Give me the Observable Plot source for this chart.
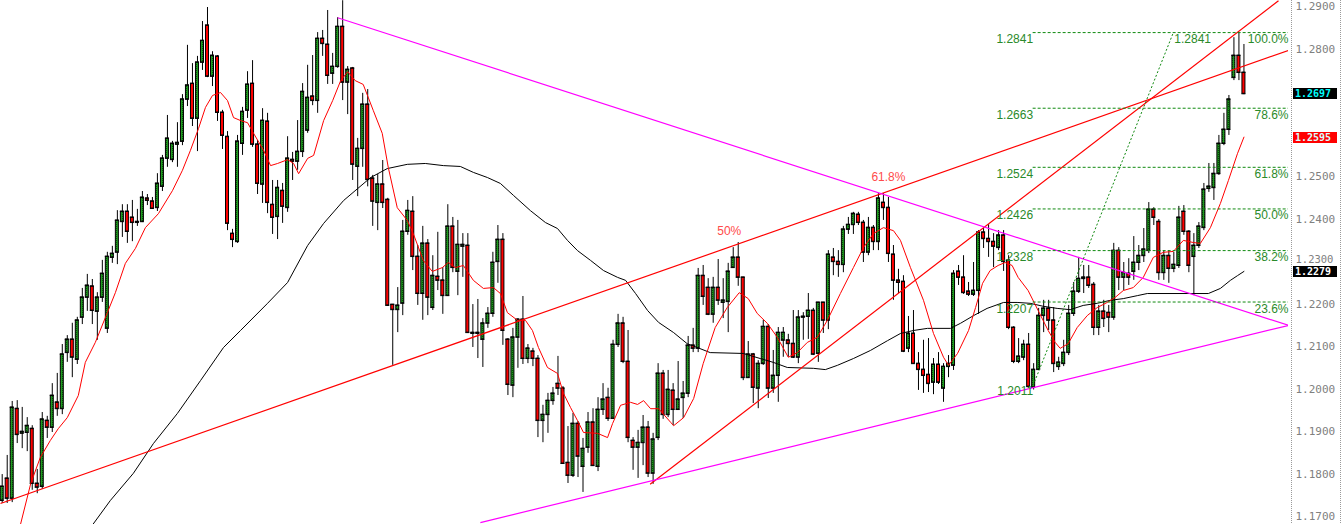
<!DOCTYPE html>
<html><head><meta charset="utf-8">
<script src="https://cdn.jsdelivr.net/npm/d3@7"></script>
<script src="https://cdn.jsdelivr.net/npm/@observablehq/plot@0.6"></script>
<style>
html,body{margin:0;padding:0;background:#fff;overflow:hidden}
svg{display:block}
</style></head><body><div id="chart"></div>
<script>
// Daily OHLC bars (bar index = position in arrays)
const O=[1.1740,1.1792,1.1745,1.1956,1.1898,1.1900,1.1909,1.1780,1.1773,1.1928,
1.1912,1.1971,1.1956,1.2088,1.2119,1.2072,1.2171,1.2218,1.2244,1.2185,
1.2218,1.2145,1.2312,1.2324,1.2396,1.2420,1.2406,1.2394,1.2396,1.2451,
1.2444,1.2429,1.2479,1.2545,1.2542,1.2578,1.2585,1.2684,1.2721,1.2639,
1.2771,1.2858,1.2738,1.2785,1.2653,1.2596,1.2368,1.2349,1.2580,1.2658,
1.2721,1.2578,1.2484,1.2632,1.2436,1.2408,1.2469,1.2429,1.2542,1.2538,
1.2561,1.2611,1.2691,1.2681,1.2827,1.2813,1.2745,1.2761,1.2855,1.2724,
1.2757,1.2526,1.2568,1.2672,1.2498,1.2441,1.2484,1.2448,1.2201,1.2189,
1.2204,1.2373,1.2420,1.2314,1.2227,1.2345,1.2194,1.2267,1.2258,1.2222,
1.2385,1.2279,1.2338,1.2340,1.2135,1.2133,1.2119,1.2157,1.2180,1.2302,
1.2354,1.2119,1.2011,1.2124,1.2166,1.2074,1.2091,1.2074,1.1928,1.1942,
1.1975,1.2015,1.2004,1.1829,1.1799,1.1921,1.1820,1.1865,1.1924,1.1820,
1.1954,1.1982,1.1933,1.2107,1.2157,1.2067,1.1881,1.1865,1.1876,1.1912,
1.1804,1.1888,1.2039,1.1942,1.1999,1.1954,1.1982,1.1992,1.2105,1.2098,
1.2269,1.2241,1.2178,1.2241,1.2206,1.2208,1.2288,1.2312,1.2265,1.2029,
1.2084,1.2004,1.2062,1.2149,1.2004,1.2034,1.2117,1.2117,1.2109,1.2077,
1.2171,1.2173,1.2187,1.2086,1.2206,1.2164,1.2312,1.2302,1.2295,1.2378,
1.2389,1.2413,1.2394,1.2324,1.2382,1.2349,1.2441,1.2429,1.2319,1.2258,
1.2255,1.2098,1.2133,1.2062,1.2048,1.2036,1.2018,1.2060,1.2004,1.2055,
1.2058,1.2279,1.2265,1.2232,1.2225,1.2234,1.2371,1.2356,1.2349,1.2335,
1.2364,1.2305,1.2147,1.2067,1.2077,1.2107,1.2006,1.2048,1.2175,1.2192,
1.2164,1.2055,1.2062,1.2088,1.2180,1.2232,1.2262,1.2265,1.2248,1.2147,
1.2185,1.2182,1.2171,1.2328,1.2265,1.2274,1.2279,1.2300,1.2316,1.2328,
1.2425,1.2396,1.2276,1.2316,1.2286,1.2293,1.2420,1.2373,1.2314,1.2340,
1.2382,1.2474,1.2476,1.2509,1.2580,1.2613,1.2735,1.2787,1.2747];
const H=[1.1801,1.1846,1.1973,1.1975,1.1959,1.1935,1.1916,1.1813,1.1947,1.1938,
1.2015,1.2039,1.2107,1.2128,1.2157,1.2171,1.2239,1.2272,1.2260,1.2229,
1.2305,1.2324,1.2338,1.2422,1.2436,1.2436,1.2446,1.2425,1.2467,1.2460,
1.2453,1.2509,1.2552,1.2646,1.2585,1.2629,1.2695,1.2811,1.2768,1.2785,
1.2867,1.2900,1.2796,1.2787,1.2658,1.2608,1.2378,1.2599,1.2665,1.2749,
1.2775,1.2587,1.2662,1.2651,1.2493,1.2493,1.2486,1.2596,1.2559,1.2634,
1.2721,1.2764,1.2787,1.2841,1.2846,1.2893,1.2792,1.2876,1.2916,1.2761,
1.2759,1.2592,1.2698,1.2707,1.2505,1.2507,1.2540,1.2451,1.2201,1.2241,
1.2399,1.2446,1.2455,1.2340,1.2385,1.2354,1.2316,1.2371,1.2288,1.2436,
1.2406,1.2399,1.2368,1.2368,1.2201,1.2213,1.2168,1.2194,1.2324,1.2387,
1.2368,1.2121,1.2145,1.2168,1.2220,1.2107,1.2098,1.2081,1.1964,1.1992,
1.2006,1.2079,1.2008,1.1914,1.1945,1.1926,1.1886,1.1947,1.1956,1.1982,
1.2015,1.2004,1.2117,1.2178,1.2171,1.2140,1.1888,1.1905,1.1940,1.1926,
1.1898,1.2062,1.2046,1.2046,1.2015,1.2067,1.2020,1.2126,1.2145,1.2286,
1.2293,1.2262,1.2265,1.2307,1.2262,1.2298,1.2335,1.2347,1.2265,1.2114,
1.2086,1.2069,1.2164,1.2154,1.2093,1.2147,1.2147,1.2131,1.2187,1.2187,
1.2182,1.2227,1.2192,1.2206,1.2206,1.2328,1.2333,1.2328,1.2385,1.2406,
1.2418,1.2418,1.2399,1.2406,1.2387,1.2462,1.2462,1.2453,1.2340,1.2284,
1.2269,1.2173,1.2187,1.2088,1.2117,1.2121,1.2074,1.2088,1.2062,1.2081,
1.2281,1.2293,1.2316,1.2253,1.2300,1.2375,1.2380,1.2389,1.2368,1.2375,
1.2375,1.2316,1.2149,1.2121,1.2117,1.2133,1.2062,1.2192,1.2211,1.2211,
1.2194,1.2077,1.2117,1.2199,1.2253,1.2312,1.2293,1.2293,1.2253,1.2199,
1.2211,1.2199,1.2345,1.2335,1.2300,1.2309,1.2361,1.2340,1.2380,1.2441,
1.2429,1.2401,1.2328,1.2328,1.2324,1.2432,1.2434,1.2375,1.2368,1.2394,
1.2486,1.2533,1.2533,1.2599,1.2651,1.2693,1.2829,1.2841,1.2813];
const L=[1.1733,1.1733,1.1735,1.1874,1.1862,1.1855,1.1764,1.1756,1.1766,1.1886,
1.1900,1.1938,1.1942,1.2065,1.2029,1.2060,1.2154,1.2185,1.2154,1.2117,
1.2206,1.2133,1.2298,1.2295,1.2359,1.2345,1.2349,1.2385,1.2394,1.2434,
1.2425,1.2420,1.2467,1.2524,1.2535,1.2524,1.2575,1.2667,1.2620,1.2561,
1.2752,1.2735,1.2714,1.2632,1.2566,1.2375,1.2335,1.2345,1.2552,1.2639,
1.2571,1.2460,1.2439,1.2415,1.2366,1.2354,1.2392,1.2418,1.2493,1.2517,
1.2547,1.2604,1.2669,1.2651,1.2785,1.2719,1.2719,1.2757,1.2681,1.2648,
1.2493,1.2455,1.2524,1.2478,1.2385,1.2375,1.2427,1.2197,1.2058,1.2135,
1.2175,1.2364,1.2281,1.2199,1.2164,1.2175,1.2187,1.2234,1.2178,1.2220,
1.2276,1.2222,1.2265,1.2133,1.2100,1.2074,1.2053,1.2145,1.2171,1.2251,
1.2105,1.1987,1.1982,1.2051,1.2060,1.2062,1.2055,1.1888,1.1876,1.1898,
1.1964,1.1987,1.1825,1.1780,1.1794,1.1794,1.1759,1.1851,1.1820,1.1808,
1.1940,1.1926,1.1931,1.2100,1.2062,1.1876,1.1811,1.1792,1.1822,1.1794,
1.1778,1.1881,1.1931,1.1935,1.1916,1.1952,1.1933,1.1982,1.2088,1.2088,
1.2199,1.2175,1.2157,1.2199,1.2168,1.2135,1.2286,1.2244,1.2022,1.2027,
1.1968,1.1956,1.2058,1.1980,1.1992,1.1971,1.2077,1.2077,1.2074,1.2062,
1.2117,1.2119,1.2081,1.2065,1.2133,1.2142,1.2269,1.2265,1.2276,1.2366,
1.2366,1.2387,1.2300,1.2316,1.2328,1.2328,1.2399,1.2300,1.2211,1.2227,
1.2088,1.2088,1.2060,1.1999,1.1992,1.1994,1.1989,1.2013,1.1971,1.2029,
1.2046,1.2246,1.2225,1.2220,1.2220,1.2178,1.2333,1.2312,1.2288,1.2328,
1.2279,1.2142,1.2062,1.2062,1.2069,1.2004,1.2000,1.2046,1.2135,1.2140,
1.2041,1.2046,1.2055,1.2081,1.2173,1.2227,1.2227,1.2239,1.2128,1.2128,
1.2147,1.2135,1.2164,1.2234,1.2234,1.2246,1.2258,1.2281,1.2300,1.2321,
1.2387,1.2258,1.2258,1.2251,1.2276,1.2286,1.2364,1.2276,1.2222,1.2333,
1.2375,1.2465,1.2446,1.2505,1.2575,1.2599,1.2728,1.2728,1.2695];
const C=[1.1773,1.1745,1.1959,1.1895,1.1902,1.1916,1.1780,1.1771,1.1931,1.1912,
1.1987,1.1956,1.2084,1.2119,1.2077,1.2164,1.2218,1.2246,1.2187,1.2218,
1.2274,1.2314,1.2321,1.2399,1.2420,1.2373,1.2394,1.2396,1.2453,1.2446,
1.2427,1.2486,1.2545,1.2592,1.2580,1.2582,1.2684,1.2717,1.2639,1.2771,
1.2822,1.2738,1.2787,1.2653,1.2599,1.2392,1.2354,1.2585,1.2655,1.2719,
1.2578,1.2486,1.2634,1.2441,1.2406,1.2476,1.2432,1.2545,1.2538,1.2561,
1.2702,1.2688,1.2681,1.2827,1.2815,1.2740,1.2761,1.2855,1.2724,1.2754,
1.2531,1.2568,1.2672,1.2495,1.2444,1.2484,1.2441,1.2199,1.2189,1.2199,
1.2373,1.2422,1.2314,1.2227,1.2345,1.2218,1.2269,1.2258,1.2222,1.2385,
1.2288,1.2342,1.2342,1.2135,1.2133,1.2135,1.2157,1.2180,1.2300,1.2354,
1.2140,1.2013,1.2124,1.2166,1.2074,1.2098,1.2074,1.1928,1.1942,1.1975,
1.1992,1.2004,1.1827,1.1799,1.1921,1.1844,1.1862,1.1924,1.1822,1.1954,
1.1978,1.1933,1.2107,1.2157,1.2067,1.1888,1.1865,1.1876,1.1912,1.1804,
1.1884,1.2039,1.1942,1.2001,1.1954,1.1978,1.1992,1.2105,1.2098,1.2269,
1.2220,1.2178,1.2241,1.2211,1.2211,1.2279,1.2312,1.2265,1.2029,1.2084,
1.2006,1.2062,1.2149,1.2004,1.2034,1.2135,1.2135,1.2109,1.2077,1.2171,
1.2173,1.2187,1.2084,1.2206,1.2164,1.2319,1.2302,1.2295,1.2378,1.2389,
1.2415,1.2394,1.2324,1.2382,1.2349,1.2451,1.2429,1.2321,1.2258,1.2253,
1.2091,1.2133,1.2062,1.2048,1.2034,1.2015,1.2060,1.2018,1.2055,1.2062,
1.2274,1.2265,1.2229,1.2225,1.2234,1.2371,1.2356,1.2349,1.2338,1.2364,
1.2302,1.2147,1.2067,1.2079,1.2107,1.2008,1.2048,1.2175,1.2192,1.2164,
1.2062,1.2065,1.2088,1.2180,1.2232,1.2262,1.2265,1.2246,1.2147,1.2185,
1.2168,1.2171,1.2328,1.2265,1.2276,1.2265,1.2300,1.2316,1.2331,1.2425,
1.2406,1.2276,1.2316,1.2286,1.2295,1.2406,1.2373,1.2293,1.2340,1.2385,
1.2472,1.2479,1.2509,1.2580,1.2613,1.2684,1.2787,1.2747,1.2697];

// Moving averages: [bar index, price]
const redMA=[[3,1.1653],[5.7,1.1780],[7.6,1.1841],[9.6,1.1881],[11.2,1.1909],[13,1.1935],[15.2,1.1987],[16.6,1.2065],[18.6,1.2112],[21,1.2182],
[22.6,1.2229],[24.6,1.2298],[26.6,1.2333],[28.6,1.2382],[31.2,1.2415],[34,1.2469],[36,1.2517],[37.6,1.2564],[39.2,1.2615],[40.6,1.2665],
[42,1.2693],[43.6,1.2700],[45,1.2681],[46.2,1.2641],[47.6,1.2634],[49,1.2629],[50.2,1.2604],[52.2,1.2564],[53.6,1.2528],[55,1.2533],
[57,1.2542],[58.2,1.2533],[59.2,1.2509],[61,1.2545],[62.2,1.2552],[64.2,1.2634],[66,1.2681],[67.6,1.2728],[69,1.2749],[70.5,1.2728],
[72.1,1.2719],[74.1,1.2658],[75.9,1.2604],[77.1,1.2524],[78.9,1.2429],[80.9,1.2399],[82.1,1.2368],[84.1,1.2305],[85.9,1.2279],[87.9,1.2288],
[89.1,1.2300],[90.5,1.2288],[92.1,1.2293],[94.1,1.2258],[96.1,1.2239],[98.1,1.2241],[99.5,1.2227],[100.9,1.2182],[102.9,1.2164],[104.5,1.2164],
[105.9,1.2140],[107.1,1.2100],[108.9,1.2053],[110.9,1.2039],[112.1,1.1992],[113.5,1.1959],[114.9,1.1928],[116.1,1.1900],[118.9,1.1898],[120.9,1.1888],
[121.9,1.1921],[123.5,1.1964],[125.5,1.1971],[126.9,1.1966],[128.1,1.1975],[129.5,1.1956],[131.1,1.1956],[133.5,1.1924],[134.1,1.1916],[136.1,1.1935],
[138.1,1.1980],[140,1.2062],[142.4,1.2147],[144.8,1.2194],[147.2,1.2229],[149,1.2215],[150.8,1.2180],[152.8,1.2157],[154.8,1.2124],[157,1.2077],
[158.8,1.2088],[160.8,1.2112],[162.8,1.2124],[164.8,1.2164],[167.4,1.2227],[170,1.2288],[172,1.2335],[174,1.2368],[176,1.2382],[178,1.2375],
[179.4,1.2352],[181.4,1.2288],[184,1.2211],[186,1.2133],[188,1.2077],[189,1.2058],[190.8,1.2086],[193,1.2140],[194.4,1.2194],[195.8,1.2251],
[197.3,1.2281],[198.9,1.2293],[200.3,1.2300],[201.7,1.2293],[202.9,1.2265],[204.9,1.2234],[206.9,1.2187],[208.9,1.2140],[210.3,1.2112],[211.3,1.2098],
[212.9,1.2109],[214.7,1.2147],[216.7,1.2175],[218.7,1.2194],[220.7,1.2206],[222.3,1.2218],[223.9,1.2234],[225.9,1.2241],[227.9,1.2265],[229.9,1.2312],
[231.9,1.2324],[233.9,1.2326],[235.9,1.2352],[237.9,1.2347],[239.3,1.2345],[241.3,1.2382],[243.3,1.2439],[244.9,1.2493],[246.7,1.2556],[248,1.2595]];
const blackMA=[[17.2,1.1669],[21.6,1.1740],[26.2,1.1804],[30.2,1.1874],[35,1.1945],[39.6,1.2022],[44.2,1.2100],[47.6,1.2140],[53,1.2204],[57,1.2253],
[61,1.2340],[64.2,1.2392],[68.2,1.2446],[71,1.2474],[73.6,1.2500],[76.9,1.2521],[80.9,1.2531],[84.5,1.2533],[88.1,1.2528],[91.5,1.2526],
[94.1,1.2512],[96.9,1.2500],[99.5,1.2486],[102.1,1.2458],[105.5,1.2422],[108.5,1.2394],[110.9,1.2380],[112.9,1.2352],[114.9,1.2328],[117.5,1.2305],
[120.1,1.2281],[122.9,1.2265],[124.5,1.2258],[126.5,1.2227],[128.9,1.2187],[131.1,1.2159],[134.1,1.2135],[136.8,1.2109],[138.8,1.2100],[141.4,1.2088],
[148,1.2086],[151.4,1.2074],[154,1.2065],[156.8,1.2053],[162,1.2051],[164.4,1.2048],[166.8,1.2058],[170,1.2074],[173.4,1.2093],[176.8,1.2116],
[179.4,1.2133],[182,1.2140],[184.8,1.2145],[189.4,1.2145],[191.4,1.2157],[194,1.2175],[196.7,1.2192],[200,1.2206],[202.7,1.2206],[205.3,1.2204],
[207.9,1.2197],[210.7,1.2192],[213.3,1.2189],[215.9,1.2199],[218.7,1.2204],[221.3,1.2211],[223.9,1.2215],[226.7,1.2222],[228.7,1.2227],[240.9,1.2227],
[243.3,1.2239],[245.3,1.2258],[246.7,1.2269],[248,1.2279]];

// Trend lines (bar index, price)
const magentaLines=[{x1:67.0,y1:1.2876,x2:256.9,y2:1.2152},{x1:95.5,y1:1.1688,x2:256.9,y2:1.2152}];
const redLines=[{x1:-0.34,y1:1.1733,x2:256.9,y2:1.2799},{x1:129.4,y1:1.1778,x2:254.9,y2:1.2916}];

// Fibonacci retracement
const fibLevels=[1.2841,1.2663,1.2524,1.2426,1.2328,1.2207];
const fibPct=["100.0%","78.6%","61.8%","50.0%","38.2%","23.6%"];
const fibLow=1.2011, fibStart=205.9, fibTopBar=233.9;
const notes=[{x:145.2,y:1.2373,t:"50%"},{x:177,y:1.2500,t:"61.8%"}];
// price-axis ticks (1.2600 and 1.2700 are hidden behind the price tags; 1.2300 sits just above one)
const yTicks=[1.17,1.18,1.19,1.20,1.21,1.22,1.24,1.25,1.28,1.29];
const yTicksTight=[1.23];
const priceTags=[{v:1.2697,bg:"#000000",fg:"#00ffff"},{v:1.2595,bg:"#ff0000",fg:"#d8ffff"},{v:1.2279,bg:"#000000",fg:"#ffffff"}];

const xDomain=[-0.34,256.9];
const yDomain=[1.16835,1.29165];
const candles=O.map((o,i)=>({i,o,h:H[i],l:L[i],c:C[i]}));
const up=candles.filter(d=>d.c>=d.o), dn=candles.filter(d=>d.c<d.o);
const fibData=fibLevels.map((v,k)=>({v,p:fibPct[k]}));
const green="#2a8a2a";
const labFont="'Liberation Sans', Arial, sans-serif";
const monoFont="'DejaVu Sans Mono', monospace";

const chart=Plot.plot({
  width:1343,height:524,marginLeft:0,marginRight:55,marginTop:0,marginBottom:0,
  style:{background:"#fff",color:"#808080",fontFamily:monoFont,fontSize:"11px"},
  x:{domain:xDomain,axis:null},
  y:{domain:yDomain,axis:null},
  marks:[
    Plot.text(yTicks,{x:xDomain[1],y:d=>d,text:d=>d.toFixed(4),textAnchor:"start",dx:7,dy:-1,fill:"#808080",fontFamily:monoFont,fontSize:11}),
    Plot.text(yTicksTight,{x:xDomain[1],y:d=>d,text:d=>d.toFixed(4),textAnchor:"start",dx:7,dy:-3,fill:"#808080",fontFamily:monoFont,fontSize:10.5}),
    Plot.ruleX(candles,{x:"i",y1:"l",y2:"h",stroke:"#000",strokeWidth:1}),
    Plot.rect(up,{x1:d=>d.i-0.3,x2:d=>d.i+0.3,y1:"o",y2:"c",fill:"url(#gp)",stroke:"#000",strokeWidth:1}),
    Plot.rect(dn,{x1:d=>d.i-0.3,x2:d=>d.i+0.3,y1:"o",y2:"c",fill:"#ff0000",stroke:"#000",strokeWidth:1}),
    Plot.ruleY(candles,{y:"c",x1:d=>d.i-0.4,x2:d=>d.i+0.4,stroke:"#000",strokeWidth:1}),
    Plot.ruleY(candles,{y:"o",x1:d=>d.i-0.4,x2:d=>d.i+0.4,stroke:"#000",strokeWidth:1}),
    Plot.line(blackMA,{x:d=>d[0],y:d=>d[1],stroke:"#000",strokeWidth:1,clip:true}),
    Plot.line(redMA,{x:d=>d[0],y:d=>d[1],stroke:"#ff0000",strokeWidth:1,clip:true}),
    Plot.link(redLines,{x1:"x1",y1:"y1",x2:"x2",y2:"y2",stroke:"#ff0000",strokeWidth:1.2,clip:true}),
    Plot.link(magentaLines,{x1:"x1",y1:"y1",x2:"x2",y2:"y2",stroke:"#ff00ff",strokeWidth:1.2,clip:true}),
    Plot.ruleY(fibData,{y:"v",x1:fibStart,x2:xDomain[1],stroke:"#108a10",strokeDasharray:"3,2",strokeWidth:1}),
    Plot.link([{a:fibStart,b:fibLow,c:fibTopBar,d:fibLevels[0]}],{x1:"a",y1:"b",x2:"c",y2:"d",stroke:"#108a10",strokeDasharray:"2,2",strokeWidth:1}),
    Plot.text(fibData,{x:fibStart,y:"v",text:d=>d.v.toFixed(4),textAnchor:"end",lineAnchor:"top",dy:2,fill:green,fontFamily:labFont,fontSize:12}),
    Plot.text([fibLow],{x:fibStart,y:d=>d,text:d=>d.toFixed(4),textAnchor:"end",lineAnchor:"middle",dy:6,fill:green,fontFamily:labFont,fontSize:12}),
    Plot.text(fibData,{x:xDomain[1],y:"v",text:"p",textAnchor:"end",lineAnchor:"top",dy:2,fill:green,fontFamily:labFont,fontSize:12}),
    Plot.text([fibLevels[0]],{x:fibTopBar,y:d=>d,text:d=>d.toFixed(4),textAnchor:"start",lineAnchor:"top",dy:2,dx:1,fill:green,fontFamily:labFont,fontSize:12}),
    Plot.text(notes,{x:"x",y:"y",text:"t",fill:"#ff4a4a",fontFamily:labFont,fontSize:12})
  ]
});

const svg=d3.select(chart);
svg.insert("defs",":first-child").html('<pattern id="gp" width="2" height="2" patternUnits="userSpaceOnUse"><rect width="2" height="2" fill="#1e9a1e"/><rect width="1" height="1" fill="#0a4a0a"/></pattern>');
const ys=chart.scale("y");
[1291.5,1340.5].forEach(x=>svg.append("line").attr("x1",x).attr("x2",x).attr("y1",0).attr("y2",524).attr("stroke","#9a9a9a").attr("stroke-dasharray","1,1"));
priceTags.forEach(t=>{
  const y=Math.round(ys.apply(t.v));
  svg.append("rect").attr("x",1293).attr("y",y-5).attr("width",44).attr("height",11).attr("fill",t.bg);
  svg.append("text").attr("x",1295).attr("y",y+1).attr("dominant-baseline","middle").attr("text-anchor","start")
    .attr("fill",t.fg).attr("font-family",monoFont).attr("font-size","10px").attr("font-weight","bold").text(t.v.toFixed(4));
});
document.getElementById("chart").appendChild(chart);
</script></body></html>
